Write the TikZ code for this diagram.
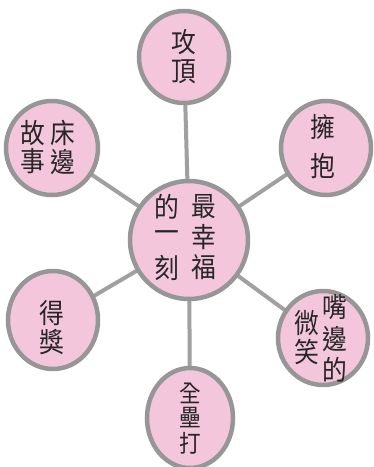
\documentclass[tikz,border=0pt]{standalone}
\usepackage{fontspec}
\newfontfamily\cjk{Noto Sans CJK TC}[FakeStretch=0.9]
\definecolor{bub}{RGB}{243,198,220}
\definecolor{rim}{RGB}{150,150,150}
\definecolor{spoke}{RGB}{160,160,160}
\usetikzlibrary{shapes.geometric,backgrounds}
\tikzset{
  bubble/.style={ellipse, draw=rim, line width=4.5pt, fill=bub, inner sep=0pt},
  spokeline/.style={draw=spoke, line width=4pt},
  ch/.style={font=\cjk\fontsize{27.5}{27.5}\selectfont, text=black!85, inner sep=0pt},
  chs/.style={font=\cjk\fontsize{24}{24}\selectfont, text=black!85, inner sep=0pt},
}
\begin{document}
\begin{tikzpicture}[x=1pt,y=-1pt]
\useasboundingbox (0,0) rectangle (374,467);
% bubbles
\node[bubble, minimum width=118pt, minimum height=118pt] (c) at (189,240) {};
\node[bubble, minimum width=90pt, minimum height=92pt] (top) at (184,57) {};
\node[bubble, minimum width=92pt, minimum height=94pt] (tl) at (52,148) {};
\node[bubble, minimum width=90pt, minimum height=94pt] (tr) at (326,148) {};
\node[bubble, minimum width=90pt, minimum height=94pt] (br) at (323,338) {};
\node[bubble, minimum width=90pt, minimum height=98pt] (bl) at (53,320) {};
\node[bubble, minimum width=86pt, minimum height=100pt] (bot) at (190,418) {};
% spokes behind
\begin{scope}[on background layer]
\path[spokeline] (c.center) -- (top.center);
\path[spokeline] (c.center) -- (tl.center);
\path[spokeline] (c.center) -- (tr.center);
\path[spokeline] (c.center) -- (br.center);
\path[spokeline] (c.center) -- (bl.center);
\path[spokeline] (c.center) -- (bot.center);
\end{scope}
% texts
\node[ch] (t1) at (184,42) {攻};
\node[ch] (t2) at (184,72) {頂};
\node[ch] (l1) at (33,133) {故};
\node[ch] (l2) at (63,133) {床};
\node[ch] (l3) at (33,161) {事};
\node[ch] (l4) at (63,162) {邊};
\node[ch] (r1) at (323,127) {擁};
\node[ch] (r2) at (323,166) {抱};
\node[ch] (m1) at (167,207) {的};
\node[ch] (m2) at (167,237) {一};
\node[ch] (m3) at (167,268) {刻};
\node[ch] (m4) at (204,207) {最};
\node[ch] (m5) at (204,237) {幸};
\node[ch] (m6) at (204,267) {福};
\node[ch] (s1) at (335,307) {嘴};
\node[ch] (s2) at (335,339) {邊};
\node[ch] (s3) at (335,370) {的};
\node[ch] (s4) at (307,323) {微};
\node[ch] (s5) at (307,352) {笑};
\node[ch] (g1) at (52,313) {得};
\node[ch] (g2) at (52,342) {獎};
\node[chs] (h1) at (190,393) {全};
\node[chs] (h2) at (190,418) {壘};
\node[chs] (h3) at (190,443) {打};
\end{tikzpicture}
\end{document}
